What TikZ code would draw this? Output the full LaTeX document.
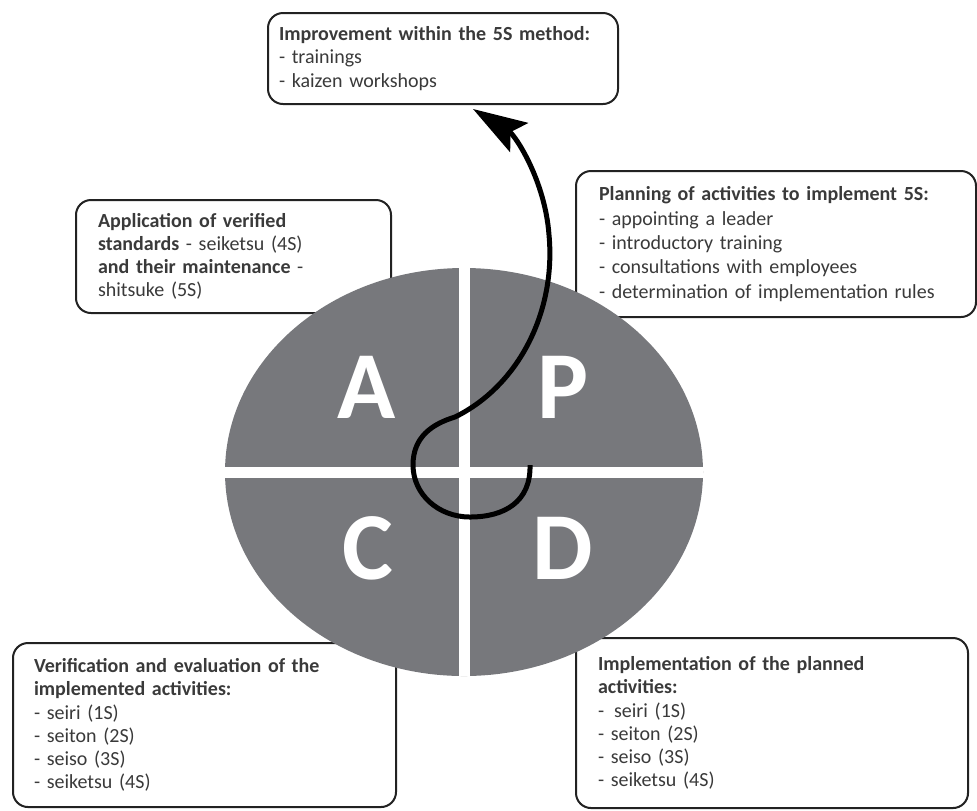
\documentclass[tikz,border=0pt]{standalone}
\usepackage{fontspec}
\setmainfont{Carlito}
\usepackage{xcolor}
\usepackage{tikz}
\usetikzlibrary{arrows.meta,positioning}
\definecolor{Ink}{HTML}{222222}
\definecolor{Txt}{HTML}{3A3A3A}
\definecolor{Disc}{HTML}{77787C}

\begin{document}
\begin{tikzpicture}[x=0.5pt,y=-0.5pt,
  panel/.style={draw=Ink,line width=1pt,fill=white,rounded corners=7.5pt,anchor=north west,align=left,inner ysep=0pt,text=Txt,font=\fontsize{10}{11.6}\selectfont},
  letter/.style={text=white,font=\fontsize{48}{48}\selectfont\bfseries,inner sep=0pt},
  bar/.style={white,line width=5.5pt},
  edge/.style={-{Stealth[length=27pt,width=17pt,inset=5pt]},line width=2.5pt,draw=black}
]
  \useasboundingbox (0,0) rectangle (977,810);
  % the five boxes
  \node[panel,text width=164pt,inner xsep=5.5pt,minimum height=45.5pt] (imp) at (267,12)
    {\textbf{Improvement within the 5S method:}\\- trainings\\- kaizen workshops};
  \node[panel,text width=135.5pt,inner xsep=11pt,minimum height=56.5pt] (act) at (75,199)
    {\textbf{Application of verified}\\\textbf{standards} - seiketsu (4S)\\\textbf{and their maintenance} -\\shitsuke (5S)};
  \node[panel,text width=177pt,inner xsep=11.5pt,minimum height=73pt,font=\fontsize{10}{12.2}\selectfont] (plan) at (575,170)
    {\textbf{Planning of activities to implement 5S:}\\- appointing a leader\\- introductory training\\- consultations with employees\\- determination of implementation rules};
  \node[panel,text width=170.5pt,inner xsep=10.5pt,minimum height=82pt] (chk) at (12,642)
    {\textbf{Verification and evaluation of the}\\\textbf{implemented activities:}\\- seiri (1S)\\- seiton (2S)\\- seiso (3S)\\- seiketsu (4S)};
  \node[panel,text width=174pt,inner xsep=11pt,minimum height=85pt] (do) at (575,637)
    {\textbf{Implementation of the planned}\\\textbf{activities:}\\- \,seiri (1S)\\- seiton (2S)\\- seiso (3S)\\- seiketsu (4S)};
  % PDCA disc
  \fill[Disc] (464,472) ellipse [x radius=239, y radius=204];
  \begin{scope}
    \clip (464,472) ellipse [x radius=239, y radius=204];
    \draw[bar] (464,260) -- (464,690);
    \draw[bar] (220,472) -- (710,472);
  \end{scope}
  \node[letter] (lA) at (367,387) {A};
  \node[letter] (lP) at (563,387) {P};
  \node[letter] (lC) at (368,548) {C};
  \node[letter] (lD) at (563,548) {D};
  % loop arrow
  \coordinate (start) at (530,465);
  \coordinate (tip) at (473,109);
  \draw[edge] (start) .. controls (531,502) and (504,517) .. (470,517)
    .. controls (438,517) and (413,494) .. (413,465)
    .. controls (413,437) and (432,424) .. (455,417)
    .. controls (520,385) and (556,310) .. (549,235)
    .. controls (545,180) and (515,135) .. (tip);
\end{tikzpicture}
\end{document}
